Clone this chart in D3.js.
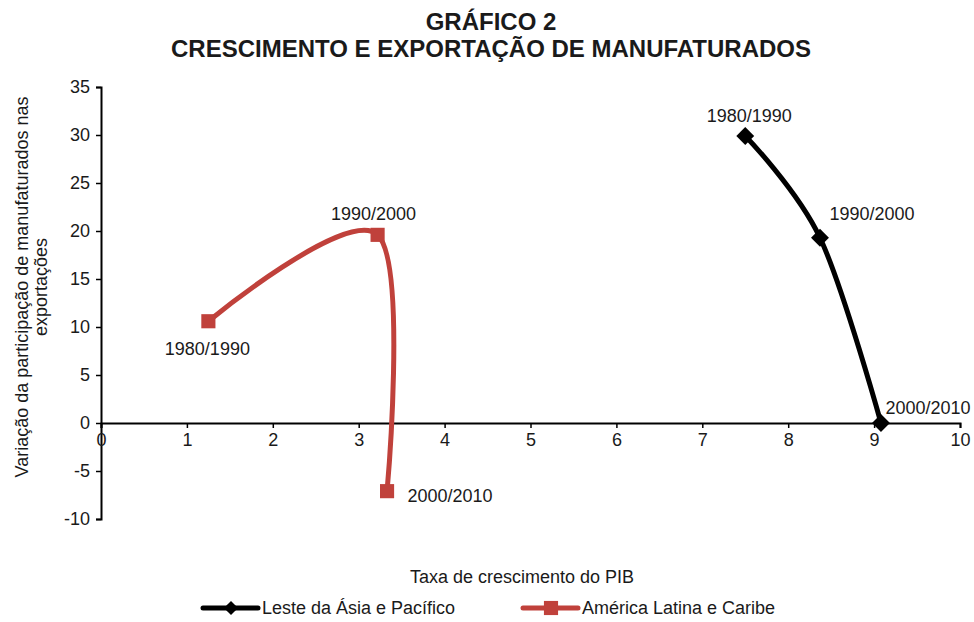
<!DOCTYPE html>
<html>
<head>
<meta charset="utf-8">
<script src="https://cdn.jsdelivr.net/npm/d3@7"></script>
<style>
  body { margin: 0; background: #fff; }
  text { font-family: "Liberation Sans", Arial, sans-serif; fill: #1a1a1a; }
</style>
</head>
<body>
<svg id="chart" width="974" height="622"></svg>
<script>
const periods = ["1980/1990", "1990/2000", "2000/2010"];
const asiaPib = [7.5, 8.37, 9.08];
const asiaExp = [29.9, 19.3, 0];
const latamPib = [1.25, 3.22, 3.33];
const latamExp = [10.6, 19.6, -7.1];
const xTicks = [0, 1, 2, 3, 4, 5, 6, 7, 8, 9, 10];
const yTicks = [-10, -5, 0, 5, 10, 15, 20, 25, 30, 35];

const svg = d3.select("#chart");

const x = d3.scaleLinear().domain([0, 10]).range([101, 960]);
const y = d3.scaleLinear().domain([-10, 35]).range([519, 87]);

// title
svg.append("text").attr("x", 491).attr("y", 30)
    .attr("text-anchor", "middle").style("font-size", "24px").style("font-weight", "bold")
    .text("GRÁFICO 2");
svg.append("text").attr("x", 491).attr("y", 57)
    .attr("text-anchor", "middle").style("font-size", "24px").style("font-weight", "bold")
    .text("CRESCIMENTO E EXPORTAÇÃO DE MANUFATURADOS");

// y axis
const yAxis = svg.append("g")
    .attr("transform", `translate(${x(0)},0)`)
    .call(d3.axisLeft(y).tickValues(yTicks).tickFormat(d => String(d)).tickSize(5).tickPadding(6));
yAxis.select(".domain").attr("stroke", "#000").attr("stroke-width", 2);
yAxis.selectAll(".tick line").attr("stroke-width", 1.5);
yAxis.selectAll(".tick text").style("font-size", "18px").attr("fill", "#1a1a1a");

// x axis at y = 0
const xAxis = svg.append("g")
    .attr("transform", `translate(0,${y(0)})`)
    .call(d3.axisBottom(x).tickValues(xTicks).tickFormat(d => String(d)).tickSize(5).tickSizeOuter(5).tickPadding(5));
xAxis.select(".domain").attr("stroke", "#000").attr("stroke-width", 2);
xAxis.selectAll(".tick line").attr("stroke-width", 1.5);
xAxis.selectAll(".tick text").style("font-size", "18px").attr("fill", "#1a1a1a");

// axis titles
svg.append("text").attr("x", 522).attr("y", 583)
    .attr("text-anchor", "middle").style("font-size", "18px")
    .text("Taxa de crescimento do PIB");
const yt = svg.append("text")
    .attr("transform", "translate(0,287) rotate(-90)")
    .attr("text-anchor", "middle").style("font-size", "18px");
yt.append("tspan").attr("x", 0).attr("y", 28).text("Variação da participação de manufaturados nas");
yt.append("tspan").attr("x", 0).attr("y", 47).text("exportações");

const line = d3.line()
    .x(d => x(d[0]))
    .y(d => y(d[1]))
    .curve(d3.curveCardinal.tension(0));

const asia = asiaPib.map((v, i) => [v, asiaExp[i], periods[i]]);
const latam = latamPib.map((v, i) => [v, latamExp[i], periods[i]]);

const black = "#000";
const red = "#c0413b";

svg.append("path").datum(latam).attr("d", line)
    .attr("fill", "none").attr("stroke", red).attr("stroke-width", 5);
svg.append("path").datum(asia).attr("d", line)
    .attr("fill", "none").attr("stroke", black).attr("stroke-width", 5);

const square = d3.symbol().type(d3.symbolSquare).size(200);
const diamond = d3.symbol().type(d3.symbolSquare).size(160);

svg.selectAll(".latam-pt").data(latam).join("path")
    .attr("class", "latam-pt")
    .attr("d", square)
    .attr("transform", d => `translate(${x(d[0])},${y(d[1])})`)
    .attr("fill", red);
svg.selectAll(".asia-pt").data(asia).join("path")
    .attr("class", "asia-pt")
    .attr("d", diamond)
    .attr("transform", d => `translate(${x(d[0])},${y(d[1])}) rotate(45)`)
    .attr("fill", black);

// point labels (offsets in px)
const asiaOffsets = [[4, -14], [52, -18], [47, -9]];
const latamOffsets = [[-1, 34], [-4, -15], [63, 11]];

svg.selectAll(".asia-lbl").data(asia).join("text")
    .attr("class", "asia-lbl")
    .attr("x", (d, i) => x(d[0]) + asiaOffsets[i][0])
    .attr("y", (d, i) => y(d[1]) + asiaOffsets[i][1])
    .attr("text-anchor", "middle").style("font-size", "18px")
    .text(d => d[2]);
svg.selectAll(".latam-lbl").data(latam).join("text")
    .attr("class", "latam-lbl")
    .attr("x", (d, i) => x(d[0]) + latamOffsets[i][0])
    .attr("y", (d, i) => y(d[1]) + latamOffsets[i][1])
    .attr("text-anchor", "middle").style("font-size", "18px")
    .text(d => d[2]);

// legend
const legend = [
    { name: "Leste da Ásia e Pacífico", color: black, rot: 45, x0: 203, sz: 100 },
    { name: "América Latina e Caribe", color: red, rot: 0, x0: 523, sz: 200 }
];
legend.forEach(l => {
    const g = svg.append("g").attr("transform", `translate(${l.x0},608)`);
    g.append("line").attr("x1", 0).attr("x2", 55).attr("y1", 0).attr("y2", 0)
        .attr("stroke", l.color).attr("stroke-width", 5).attr("stroke-linecap", "round");
    g.append("path").attr("d", d3.symbol().type(d3.symbolSquare).size(l.sz))
        .attr("transform", `translate(28,0) rotate(${l.rot})`).attr("fill", l.color);
    g.append("text").attr("x", 59).attr("y", 6).style("font-size", "18px").text(l.name);
});
</script>
</body>
</html>
